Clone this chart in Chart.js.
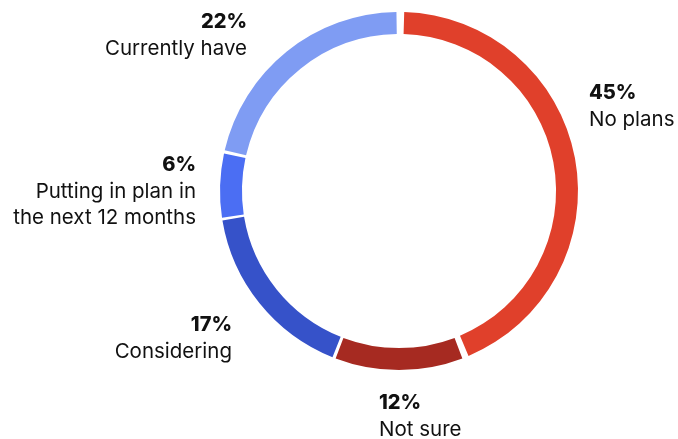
<!DOCTYPE html>
<html>
<head>
<meta charset="utf-8">
<script src="https://cdn.jsdelivr.net/npm/chart.js@4"></script>
<style>
  html, body { margin: 0; padding: 0; background: #fff; }
  #wrap { width: 678px; height: 439px; position: relative; }
</style>
</head>
<body>
<div id="wrap"><canvas id="chart"></canvas></div>
<script>
// ---- datos ----
const categorias = ["No plans", "Not sure", "Considering", "Putting in plan in the next 12 months", "Currently have"];
const valores = [45, 12, 17, 6, 22];
const colores = ["#e0402b", "#a62a21", "#3652c9", "#4b6ef3", "#7f9cf3"];
// lineas del texto de cada etiqueta
const lineas = [["No plans"], ["Not sure"], ["Considering"], ["Putting in plan in", "the next 12 months"], ["Currently have"]];

// posicion de cada etiqueta respecto al centro del anillo (dx, dy, alineacion)
const etiquetas = [
  { dx: 190, dy: -98, align: "left" },
  { dx: -20, dy: 212, align: "left" },
  { dx: -167, dy: 134, align: "right" },
  { dx: -203, dy: -26, align: "right" },
  { dx: -152, dy: -169, align: "right" }
];

const labelsPlugin = {
  id: "donutLabels",
  afterDraw(chart) {
    const ctx = chart.ctx;
    const arc = chart.getDatasetMeta(0).data[0];
    const cx = arc.x, cy = arc.y;
    ctx.save();
    ctx.fillStyle = "#111";
    ctx.textBaseline = "middle";
    valores.forEach((v, i) => {
      const p = etiquetas[i];
      const x = cx + p.dx, y = cy + p.dy;
      ctx.textAlign = p.align;
      ctx.font = "800 20px Inter";
      ctx.fillText(v + "%", x, y);
      ctx.font = "20.5px Inter";
      lineas[i].forEach((t, j) => ctx.fillText(t, x, y + 27 + j * 26));
    });
    ctx.restore();
  }
};

new Chart(document.getElementById("chart").getContext("2d"), {
  type: "doughnut",
  data: {
    labels: categorias,
    datasets: [{
      data: valores,
      backgroundColor: colores,
      borderWidth: 0,
      spacing: 7
    }]
  },
  options: {
    responsive: true,
    maintainAspectRatio: false,
    animation: false,
    cutout: "87.5%",
    layout: { padding: { left: 220, right: 100, top: 12, bottom: 69 } },
    plugins: {
      legend: { display: false },
      tooltip: { enabled: false }
    }
  },
  plugins: [labelsPlugin]
});
</script>
</body>
</html>
